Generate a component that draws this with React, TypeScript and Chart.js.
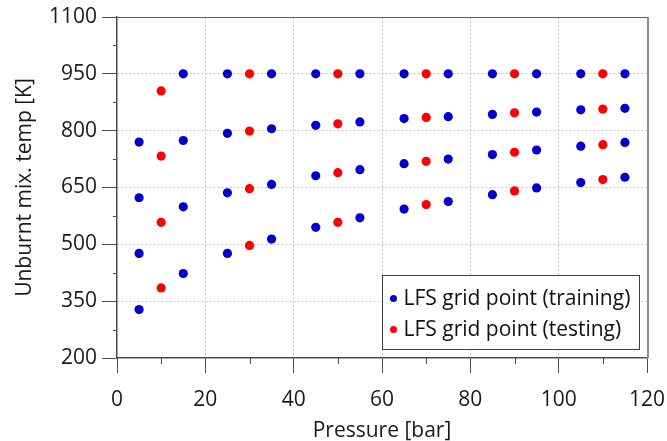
import React, { useEffect, useRef } from 'react';
import { Chart, registerables } from 'chart.js';

Chart.register(...registerables);

// Training points (blue)
const trainingPressure = [
  5, 5, 5, 5,
  15, 15, 15, 15,
  25, 25, 25, 25,
  35, 35, 35, 35,
  45, 45, 45, 45,
  55, 55, 55, 55,
  65, 65, 65, 65,
  75, 75, 75, 75,
  85, 85, 85, 85,
  95, 95, 95, 95,
  105, 105, 105, 105,
  115, 115, 115, 115,
];
const trainingTemp = [
  770, 623, 476, 328,
  950, 774, 599, 423,
  950, 793, 636, 476,
  950, 805, 658, 514,
  950, 814, 681, 545,
  950, 823, 697, 570,
  950, 832, 713, 593,
  950, 837, 725, 613,
  950, 843, 737, 631,
  950, 849, 749, 649,
  950, 855, 759, 663,
  950, 859, 769, 677,
];

// Testing points (red)
const testingPressure = [
  10, 10, 10, 10,
  30, 30, 30, 30,
  50, 50, 50, 50,
  70, 70, 70, 70,
  90, 90, 90, 90,
  110, 110, 110, 110,
];
const testingTemp = [
  905, 733, 558, 385,
  950, 799, 647, 497,
  950, 818, 689, 558,
  950, 835, 719, 605,
  950, 847, 743, 641,
  950, 857, 763, 671,
];

const seriesLabels = ['LFS grid point (training)', 'LFS grid point (testing)'];
const xTitle = 'Pressure [bar]';
const yTitle = 'Unburnt mix. temp [K]';
const xMinorTicks = [10, 30, 50, 70, 90, 110];
const yMinorTicks = [275, 425, 575, 725, 875, 1025];

const FONT = "'Open Sans', sans-serif";
const FS = 21;

export default function App() {
  const ref = useRef<HTMLCanvasElement>(null);

  useEffect(() => {
    if (!ref.current) return;

    const decor = {
      id: 'decor',
      afterDraw(chart: any) {
        const { ctx, chartArea: a, scales } = chart;
        const x = scales.x;
        const y = scales.y;
        ctx.save();
        // minor ticks
        ctx.strokeStyle = '#4d4d4d';
        ctx.lineWidth = 1;
        xMinorTicks.forEach((v) => {
          const px = Math.round(x.getPixelForValue(v)) + 0.5;
          ctx.beginPath();
          ctx.moveTo(px, a.bottom);
          ctx.lineTo(px, a.bottom + 6);
          ctx.stroke();
        });
        yMinorTicks.forEach((v) => {
          const py = Math.round(y.getPixelForValue(v)) + 0.5;
          ctx.beginPath();
          ctx.moveTo(a.left - 4, py);
          ctx.lineTo(a.left, py);
          ctx.stroke();
        });
        // top border
        ctx.strokeStyle = '#5a5a5a';
        ctx.lineWidth = 1;
        ctx.beginPath();
        ctx.moveTo(a.left, Math.round(a.top) + 0.5);
        ctx.lineTo(a.right, Math.round(a.top) + 0.5);
        ctx.stroke();
        // right border
        ctx.strokeStyle = '#8c8c8c';
        ctx.lineWidth = 2;
        ctx.beginPath();
        ctx.moveTo(Math.round(a.right) + 1, a.top);
        ctx.lineTo(Math.round(a.right) + 1, a.bottom);
        ctx.stroke();
        // legend
        const w = 257;
        const h = 74;
        const lx = Math.round(a.right - 8 - w) + 0.5;
        const ly = Math.round(a.bottom - 9 - h) + 0.5;
        ctx.fillStyle = '#ffffff';
        ctx.fillRect(lx, ly, w, h);
        ctx.strokeStyle = '#404040';
        ctx.lineWidth = 1;
        ctx.strokeRect(lx, ly, w, h);
        ctx.font = `${FS}px ${FONT}`;
        ctx.textBaseline = 'middle';
        ctx.textAlign = 'left';
        chart.data.datasets.forEach((ds: any, i: number) => {
          const cy = ly + 23 + i * 31;
          ctx.fillStyle = ds.backgroundColor;
          ctx.beginPath();
          ctx.arc(lx + 11, cy, 3.5, 0, Math.PI * 2);
          ctx.fill();
          ctx.fillStyle = '#111111';
          ctx.fillText(ds.label, lx + 21, cy + 1);
        });
        ctx.restore();
      },
    };

    const gridColor = (lo: number, hi: number) => (c: any) => {
      const v = c.tick ? c.tick.value : null;
      if (v === lo || v === hi) return 'rgba(0,0,0,0)';
      return '#c4c4c4';
    };

    const chart = new Chart(ref.current, {
      type: 'scatter',
      data: {
        datasets: [
          {
            label: seriesLabels[0],
            data: trainingPressure.map((p, i) => ({ x: p, y: trainingTemp[i] })),
            backgroundColor: '#0000cc',
            borderColor: '#0000cc',
            pointRadius: 4.6,
            pointBorderWidth: 0,
          },
          {
            label: seriesLabels[1],
            data: testingPressure.map((p, i) => ({ x: p, y: testingTemp[i] })),
            backgroundColor: '#ff0000',
            borderColor: '#ff0000',
            pointRadius: 4.6,
            pointBorderWidth: 0,
          },
        ],
      },
      options: {
        responsive: false,
        animation: false,
        devicePixelRatio: 1,
        layout: { padding: { top: 17, right: 20, left: 0, bottom: 0 } },
        plugins: {
          legend: { display: false },
          tooltip: { enabled: false },
        },
        scales: {
          x: {
            type: 'linear',
            min: 0,
            max: 120,
            afterFit: (s: any) => {
              s.height = 83;
              s.paddingLeft = 0;
              s.paddingRight = 0;
            },
            ticks: {
              stepSize: 20,
              color: '#1a1a1a',
              font: { family: FONT, size: FS },
              padding: 14,
              maxRotation: 0,
              callback: (v: any) => String(v),
            },
            grid: {
              color: gridColor(0, 120),
              tickColor: '#4d4d4d',
              tickLength: 15,
              lineWidth: 1,
            },
            border: { color: '#4d4d4d', width: 1.5, dash: [2, 2] },
            title: {
              display: true,
              text: xTitle,
              color: '#1a1a1a',
              font: { family: FONT, size: FS },
              padding: { top: 0, bottom: -3 },
            },
          },
          y: {
            type: 'linear',
            min: 200,
            max: 1100,
            afterFit: (s: any) => {
              s.width = 117;
              s.paddingTop = 0;
              s.paddingBottom = 0;
            },
            ticks: {
              stepSize: 150,
              color: '#1a1a1a',
              font: { family: FONT, size: FS },
              padding: 5,
              callback: (v: any) => String(v),
            },
            grid: {
              color: gridColor(200, 1100),
              tickColor: '#4d4d4d',
              tickLength: 15,
              lineWidth: 1,
            },
            border: { color: '#4d4d4d', width: 1.5, dash: [2, 2] },
            title: {
              display: true,
              text: yTitle,
              color: '#1a1a1a',
              font: { family: FONT, size: FS },
              padding: { top: 12, bottom: 0 },
            },
          },
        },
      },
      plugins: [decor],
    } as any);

    return () => chart.destroy();
  }, []);

  return (
    <div style={{ position: 'fixed', left: 0, top: 0, width: 667, height: 441, background: '#fff' }}>
      <canvas ref={ref} width={667} height={441} style={{ display: 'block' }} />
    </div>
  );
}
